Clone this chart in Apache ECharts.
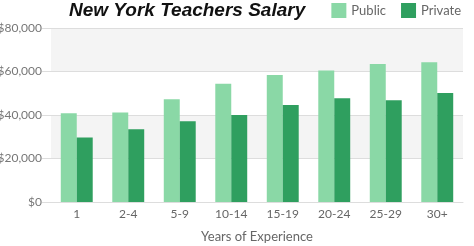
<!DOCTYPE html>
<html>
<head>
<meta charset="utf-8">
<script src="https://cdn.jsdelivr.net/npm/echarts@6/dist/echarts.min.js"></script>
<style>html,body{margin:0;padding:0;background:#fff;}#c{width:474px;height:246px;}</style>
</head>
<body>
<div id="c"></div>
<script>
const categories = ['1', '2-4', '5-9', '10-14', '15-19', '20-24', '25-29', '30+'];
const publicSalary = [40800, 41100, 47200, 54400, 58400, 60500, 63400, 64200];
const privateSalary = [29600, 33400, 37100, 40000, 44600, 47700, 46800, 50100];
const yTicks = [0, 20000, 40000, 60000, 80000];

const chart = echarts.init(document.getElementById('c'), null, {renderer: 'canvas'});
const fontFam = 'Lato, "Open Sans", sans-serif';
chart.setOption({
  animation: false,
  title: {
    text: 'New York Teachers Salary',
    left: 64, top: -4,
    textStyle: {fontFamily: '"Liberation Sans", Arial, sans-serif', fontWeight: 'bold', fontStyle: 'italic', fontSize: 19, color: '#111'}
  },
  legend: {
    right: 8, top: -2,
    itemWidth: 15, itemHeight: 15, itemGap: 15,
    icon: 'rect',
    textStyle: {fontFamily: fontFam, fontSize: 13, color: '#666'},
    data: ['Public', 'Private']
  },
  grid: {left: 51, right: 11, top: 28, bottom: 44, containLabel: false, outerBoundsMode: 'none'},
  xAxis: {
    type: 'category',
    data: categories,
    name: 'Years of Experience',
    nameLocation: 'middle',
    nameGap: 28,
    nameTextStyle: {fontFamily: fontFam, fontSize: 13, color: '#666'},
    axisLine: {show: true, lineStyle: {color: '#ddd'}},
    axisTick: {show: false},
    axisLabel: {fontFamily: fontFam, fontSize: 12, color: '#666', margin: 6}
  },
  yAxis: {
    type: 'value',
    min: 0, max: 80000, interval: 20000,
    axisLine: {show: false},
    axisTick: {show: true, length: 9, lineStyle: {color: '#ddd'}},
    axisLabel: {
      fontFamily: fontFam, fontSize: 12, color: '#777', margin: 9,
      formatter: v => yTicks.includes(v) ? '$' + v.toLocaleString('en-US') : ''
    },
    splitLine: {lineStyle: {color: '#ddd'}},
    splitArea: {show: true, areaStyle: {color: ['#ffffff', '#f4f4f4']}}
  },
  series: [
    {name: 'Public', type: 'bar', data: publicSalary, barGap: '0%', barCategoryGap: '38%', itemStyle: {color: '#8ad8a6'}},
    {name: 'Private', type: 'bar', data: privateSalary, itemStyle: {color: '#2f9f5f'}}
  ]
});
</script>
</body>
</html>
